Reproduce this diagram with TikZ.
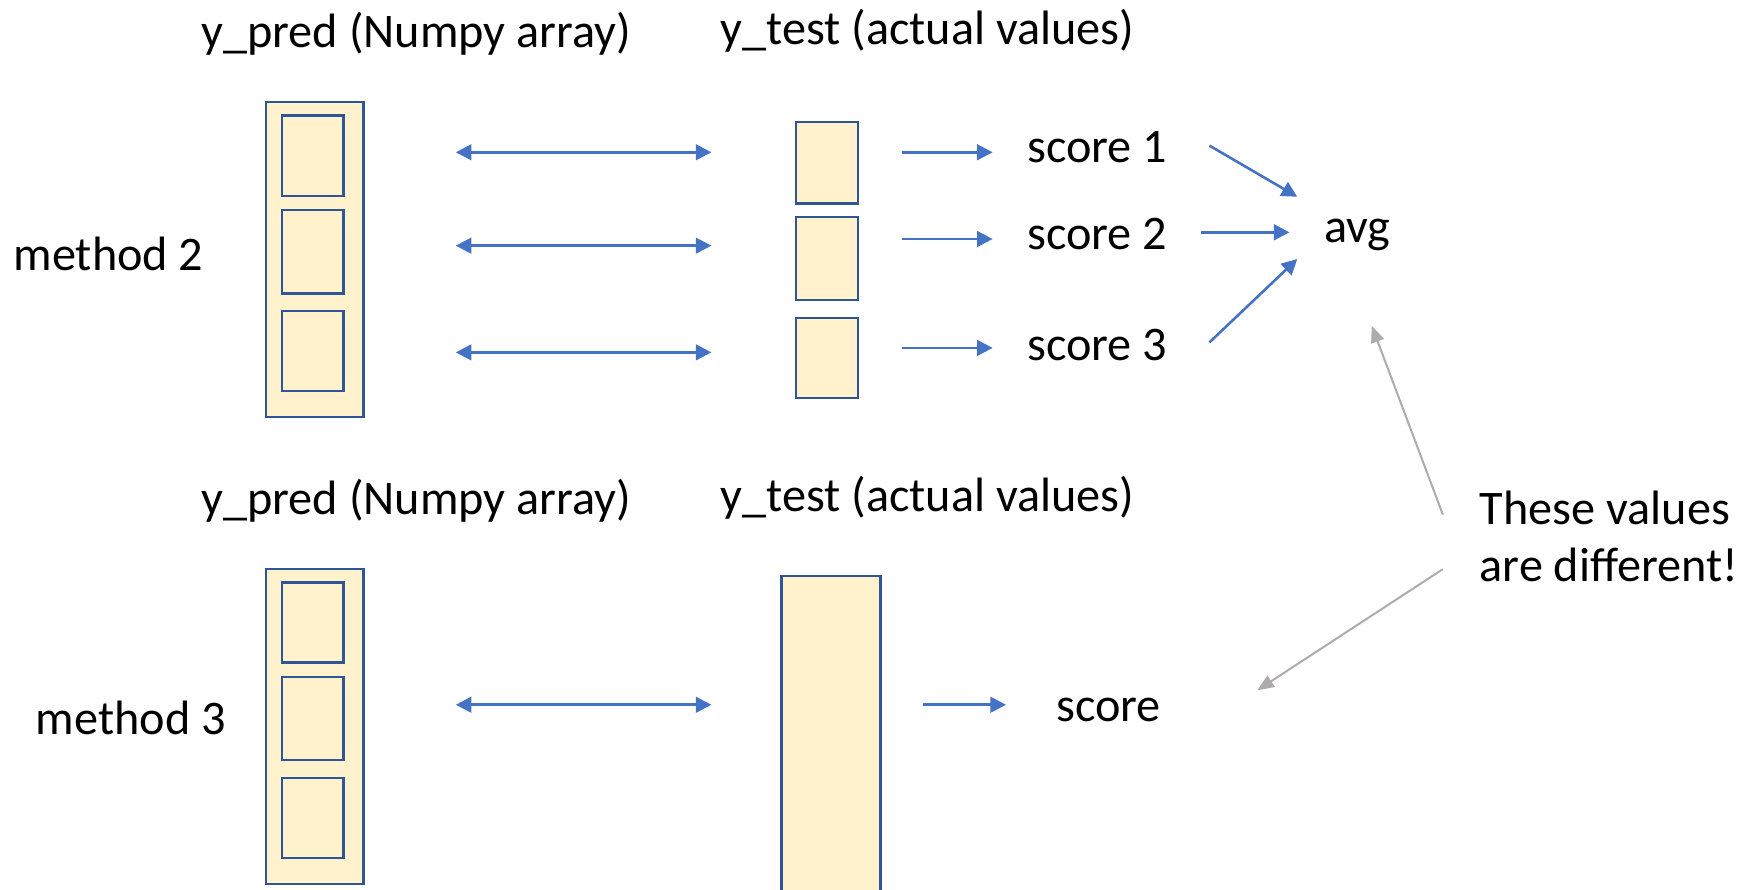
\documentclass[tikz,border=0pt]{standalone}
\usepackage{fontspec}
\setmainfont{Carlito}
\usetikzlibrary{arrows.meta}
\definecolor{boxfill}{HTML}{FFF2CC}
\definecolor{boxline}{HTML}{2F5597}
\definecolor{arrowblue}{HTML}{4472C4}
\definecolor{arrowgray}{HTML}{AFABAB}
\begin{document}
\begin{tikzpicture}[x=1pt,y=-1pt,
  cell/.style={draw=boxline, fill=boxfill, line width=2pt, inner sep=0pt, outer sep=0pt},
  lbl/.style={anchor=base west, inner sep=0pt, font=\fontsize{43.4}{52}\selectfont},
  bluearrow/.style={draw=arrowblue, line width=2.3pt, -{Triangle[length=14pt,width=14pt]}},
  bluedouble/.style={draw=arrowblue, line width=2.3pt, {Triangle[length=14pt,width=14pt]}-{Triangle[length=14pt,width=14pt]}},
  grayarrow/.style={draw=arrowgray, line width=1.8pt, -{Triangle[length=15pt,width=12pt]}}
]
\clip (0,0) rectangle (1568,800);
\useasboundingbox (0,0) rectangle (1568,800);

% ---------- method 2 ----------
\node[lbl] (predA) at (181,43) {y\_pred (Numpy array)};
\node[lbl] (testA) at (648,40) {y\_test (actual values)};
\node[lbl] (m2) at (12,243) {method 2};

\node[cell, minimum width=88pt, minimum height=283pt] (outerA) at (283,233.5) {};
\node[cell, minimum width=55pt, minimum height=72pt] (pa1) at (281.5,140) {};
\node[cell, minimum width=55pt, minimum height=75pt] (pa2) at (281.5,226.5) {};
\node[cell, minimum width=55pt, minimum height=72pt] (pa3) at (281.5,316) {};

\node[cell, minimum width=56pt, minimum height=73pt] (ta1) at (744,146.5) {};
\node[cell, minimum width=56pt, minimum height=75pt] (ta2) at (744,232.5) {};
\node[cell, minimum width=56pt, minimum height=72pt] (ta3) at (744,322) {};

\coordinate (d1l) at (410,137); \coordinate (d1r) at (640,137);
\coordinate (d2l) at (410,221); \coordinate (d2r) at (640,221);
\coordinate (d3l) at (410,317); \coordinate (d3r) at (640,317);
\draw[bluedouble] (d1l) -- (d1r);
\draw[bluedouble] (d2l) -- (d2r);
\draw[bluedouble] (d3l) -- (d3r);

\node[lbl] (s1) at (924,146) {score 1};
\node[lbl] (s2) at (924,224) {score 2};
\node[lbl] (s3) at (924,324) {score 3};
\node[lbl] (avg) at (1191,218) {avg};

\coordinate (a1s) at (811,137); \coordinate (a1e) at (893,137);
\coordinate (a2s) at (811,215); \coordinate (a2e) at (893,215);
\coordinate (a3s) at (811,313); \coordinate (a3e) at (893,313);
\draw[bluearrow] (a1s) -- (a1e);
\draw[bluearrow] (a2s) -- (a2e);
\draw[bluearrow] (a3s) -- (a3e);

\coordinate (v1s) at (1088,131); \coordinate (v1e) at (1167,177);
\coordinate (v2s) at (1080,209); \coordinate (v2e) at (1160,209);
\coordinate (v3s) at (1088,308); \coordinate (v3e) at (1167,233);
\draw[bluearrow] (v1s) -- (v1e);
\draw[bluearrow] (v2s) -- (v2e);
\draw[bluearrow] (v3s) -- (v3e);

% ---------- method 3 ----------
\node[lbl] (predB) at (181,463) {y\_pred (Numpy array)};
\node[lbl] (testB) at (648,460) {y\_test (actual values)};
\node[lbl] (m3) at (32,661) {method 3};

\node[cell, minimum width=88pt, minimum height=283pt] (outerB) at (283,653.5) {};
\node[cell, minimum width=55pt, minimum height=72pt] (pb1) at (281.5,560) {};
\node[cell, minimum width=55pt, minimum height=75pt] (pb2) at (281.5,646.5) {};
\node[cell, minimum width=55pt, minimum height=72pt] (pb3) at (281.5,736) {};

\node[cell, minimum width=89pt, minimum height=320pt] (tb) at (747.5,678) {};

\coordinate (d4l) at (410,634); \coordinate (d4r) at (640,634);
\draw[bluedouble] (d4l) -- (d4r);
\coordinate (a4s) at (830,634); \coordinate (a4e) at (905,634);
\draw[bluearrow] (a4s) -- (a4e);
\node[lbl] (sc) at (950,649) {score};

% ---------- note ----------
\node[lbl] (note1) at (1331,472) {These values};
\node[lbl] (note2) at (1331,523) {are different!};
\coordinate (g1s) at (1298,463); \coordinate (g1e) at (1234,293);
\coordinate (g2s) at (1298,512); \coordinate (g2e) at (1131,621);
\draw[grayarrow] (g1s) -- (g1e);
\draw[grayarrow] (g2s) -- (g2e);
\end{tikzpicture}
\end{document}
